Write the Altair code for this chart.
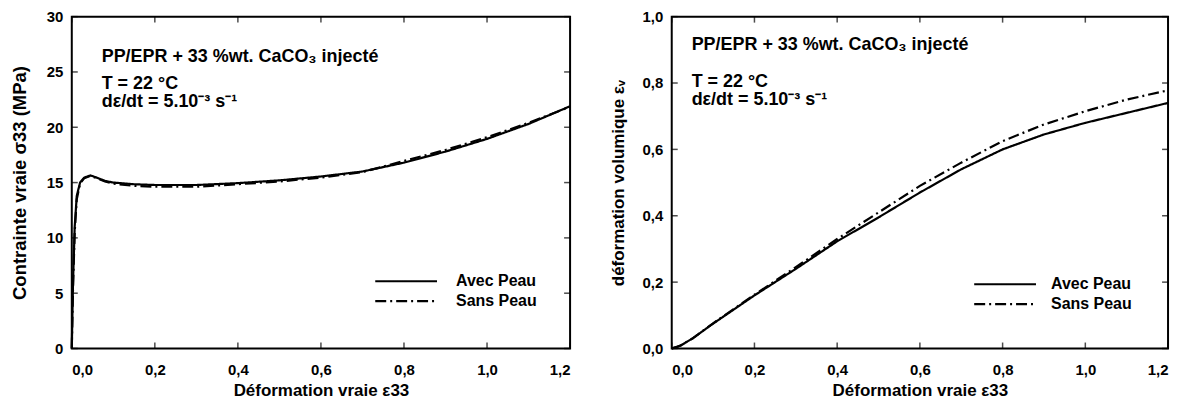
import altair as alt
import pandas as pd

# ---------------- data ----------------
series_names = ["Avec Peau", "Sans Peau"]

strain_L = [0, 0.003, 0.007, 0.012, 0.02, 0.03, 0.045, 0.06, 0.08, 0.1, 0.15, 0.2,
            0.3, 0.4, 0.5, 0.6, 0.7, 0.8, 0.9, 1.0, 1.1, 1.2]
stress_avec = [0, 6.0, 11.0, 13.8, 15.0, 15.45, 15.65, 15.45, 15.15, 15.0, 14.85, 14.78,
               14.78, 14.95, 15.2, 15.55, 16.0, 16.8, 17.8, 18.95, 20.3, 21.9]
stress_sans = [0, 5.5, 10.5, 13.5, 14.9, 15.4, 15.6, 15.4, 15.1, 14.9, 14.7, 14.62,
               14.62, 14.85, 15.1, 15.45, 15.95, 16.95, 17.95, 19.1, 20.4, 21.85]

strain_R = [0, 0.02, 0.05, 0.1, 0.2, 0.3, 0.4, 0.5, 0.6, 0.7, 0.8, 0.9, 1.0, 1.1, 1.2]
ev_avec = [0, 0.008, 0.03, 0.075, 0.16, 0.24, 0.323, 0.395, 0.47, 0.54, 0.6, 0.645, 0.68, 0.71, 0.74]
ev_sans = [0, 0.008, 0.03, 0.076, 0.162, 0.245, 0.33, 0.41, 0.49, 0.56, 0.625, 0.675, 0.715, 0.75, 0.778]

x_ticks = [0, 0.2, 0.4, 0.6, 0.8, 1.0, 1.2]
yL_ticks = [0, 5, 10, 15, 20, 25, 30]
yR_ticks = [0, 0.2, 0.4, 0.6, 0.8, 1.0]

annot_L = ["PP/EPR + 33 %wt. CaCO₃ injecté", "T = 22 °C", "dε/dt = 5.10⁻³ s⁻¹"]
annot_R = ["PP/EPR + 33 %wt. CaCO₃ injecté", "T = 22 °C", "dε/dt = 5.10⁻³ s⁻¹"]

x_title = "Déformation vraie ε33"
yL_title = "Contrainte vraie σ33 (MPa)"
yR_title = "déformation volumique εᵥ"

FONT = "Liberation Sans"
WL, WR, H = 500, 498, 333

dfL = pd.DataFrame({
    "eps": strain_L * 2,
    "val": stress_avec + stress_sans,
    "serie": [series_names[0]] * len(strain_L) + [series_names[1]] * len(strain_L),
})
dfR = pd.DataFrame({
    "eps": strain_R * 2,
    "val": ev_avec + ev_sans,
    "serie": [series_names[0]] * len(strain_R) + [series_names[1]] * len(strain_R),
})

comma = "replace(format(datum.value, '.1f'), '.', ',')"


def panel(df, width, ymax, yticks, ytitle, ytitle_size, ytitle_pad, yfmt, annot, annot_x, annot_y,
          leg_x, leg_y, leg_off):
    xs = alt.Scale(domain=[0, 1.2], nice=False, zero=False)
    ys = alt.Scale(domain=[0, ymax], nice=False, zero=False)
    xax = alt.Axis(values=x_ticks, labelExpr=comma, title=x_title, ticks=False, domain=False,
                   grid=False, labelPadding=14, titlePadding=5, titleFontSize=17)
    yax = alt.Axis(values=yticks, labelExpr=yfmt, title=ytitle, ticks=False, domain=False,
                   grid=False, labelPadding=9, titlePadding=ytitle_pad, titleFontSize=ytitle_size)
    lines = alt.Chart(df).mark_line(color="black", strokeWidth=2.2).encode(
        x=alt.X("eps:Q", scale=xs, axis=xax),
        y=alt.Y("val:Q", scale=ys, axis=yax),
        strokeDash=alt.StrokeDash(
            "serie:N",
            scale=alt.Scale(domain=series_names, range=[[1, 0], [11, 4, 2, 4]]),
            legend=alt.Legend(orient="none", legendX=leg_x, legendY=leg_y, title=None,
                              symbolType="M-3,0H3", symbolSize=427, symbolStrokeWidth=2.2,
                              symbolStrokeColor="black", labelFont=FONT, labelFontSize=16,
                              labelFontWeight="bold", labelOffset=leg_off, rowPadding=-2,
                              labelColor="black"),
        ),
        order=alt.Order("eps:Q"),
    )
    xt = pd.DataFrame({"t": x_ticks})
    yt = pd.DataFrame({"t": yticks})
    tb = alt.Chart(xt).mark_tick(color="black", thickness=1.5, size=6).encode(
        x=alt.X("t:Q", scale=xs), y=alt.value(H - 3))
    tt = alt.Chart(xt).mark_tick(color="black", thickness=1.5, size=6).encode(
        x=alt.X("t:Q", scale=xs), y=alt.value(3))
    tl = alt.Chart(yt).mark_tick(color="black", thickness=1.5, size=6).encode(
        y=alt.Y("t:Q", scale=ys), x=alt.value(3))
    tr = alt.Chart(yt).mark_tick(color="black", thickness=1.5, size=6).encode(
        y=alt.Y("t:Q", scale=ys), x=alt.value(width - 3))
    texts = []
    for s, yy in zip(annot, annot_y):
        texts.append(
            alt.Chart(pd.DataFrame({"s": [s]})).mark_text(
                align="left", baseline="alphabetic", font=FONT, fontSize=18,
                fontWeight="bold", color="black"
            ).encode(text="s:N", x=alt.value(annot_x), y=alt.value(yy))
        )
    return alt.layer(lines, tb, tt, tl, tr, *texts).properties(width=width, height=H)


left = panel(dfL, WL, 30, yL_ticks, yL_title, 18.5, 17, "format(datum.value, 'd')",
             annot_L, 30, [46, 73, 91], 324, 254, 38.6)
right = panel(dfR, WR, 1.0, yR_ticks, yR_title, 17, 15, comma,
              annot_R, 20, [33, 71, 89], 323, 257, 34.6)

chart = alt.hconcat(left, right, spacing=32).resolve_legend(strokeDash="independent").resolve_scale(
    strokeDash="independent").configure_view(stroke="black", strokeWidth=2).configure_axis(
    labelFont=FONT, labelFontSize=15, labelFontWeight="bold", labelColor="black",
    titleFont=FONT, titleFontWeight="bold", titleColor="black"
).properties(padding={"left": 1, "top": 0, "right": 5, "bottom": 0})

chart.save("out.html", embed_options={"renderer": "svg", "actions": False})
